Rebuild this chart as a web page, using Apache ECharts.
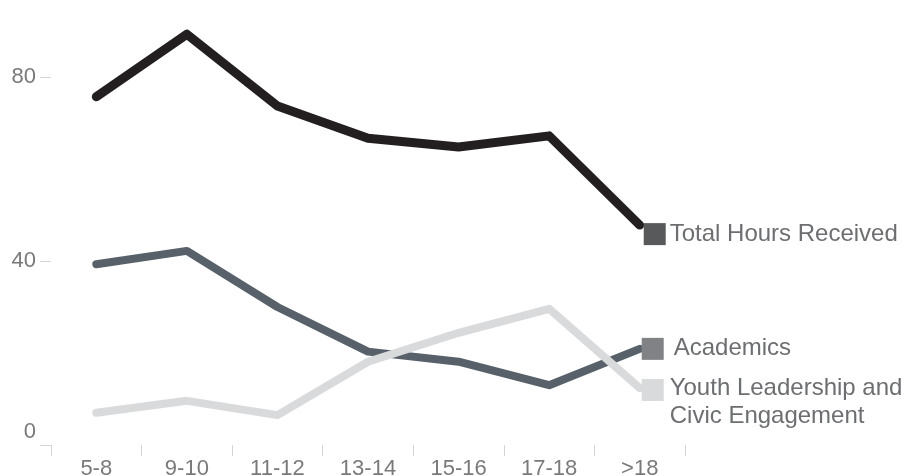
<!DOCTYPE html>
<html>
<head>
<meta charset="utf-8">
<script src="https://cdn.jsdelivr.net/npm/echarts@6/dist/echarts.min.js"></script>
<style>
  html, body { margin: 0; padding: 0; background: #ffffff; }
  #chart { width: 912px; height: 476px; }
</style>
</head>
<body>
<div id="chart"></div>
<script>
// Age groups along the x axis
const ageGroups = ['5-8', '9-10', '11-12', '13-14', '15-16', '17-18', '>18'];

// Average hours per participant, by age group
const totalHours = [75.7, 89.3, 73.7, 66.7, 64.8, 67.2, 47.8];
const academics = [39.3, 42.2, 30.0, 20.3, 18.1, 13.0, 20.9];
const youthLeadership = [7.0, 9.6, 6.5, 18.1, 24.4, 29.6, 12.4];

// Labelled y values
const yTickValues = [0, 40, 80];

const seriesNames = ['Total Hours Received', 'Academics', 'Youth Leadership and\nCivic Engagement'];

const FONT = '"Liberation Sans", Arial, Helvetica, sans-serif';

function endMarker(values, squareColor, symbolOffset, labelOffset, name) {
  const last = values.length - 1;
  return {
    silent: true,
    animation: false,
    data: [{
      coord: [ageGroups[last], values[last]],
      symbol: 'rect',
      symbolSize: 22,
      symbolOffset: symbolOffset,
      itemStyle: { color: squareColor },
      label: {
        show: true,
        position: 'right',
        distance: 4,
        offset: labelOffset,
        formatter: name,
        color: '#6d6e71',
        fontSize: 24,
        lineHeight: 28,
        fontFamily: FONT,
        align: 'left'
      }
    }]
  };
}

function lineSeries(name, values, lineColor, width, marker) {
  return {
    name: name,
    type: 'line',
    data: values,
    symbol: 'none',
    animation: false,
    silent: true,
    clip: false,
    lineStyle: { color: lineColor, width: width, cap: 'round', join: 'round' },
    markPoint: marker
  };
}

const chart = echarts.init(document.getElementById('chart'), null, { renderer: 'canvas' });

chart.setOption({
  backgroundColor: '#ffffff',
  animation: false,
  grid: { left: 51, right: 227, top: 3.4, bottom: 31, containLabel: false, outerBoundsMode: 'none' },
  xAxis: {
    type: 'category',
    data: ageGroups,
    boundaryGap: true,
    axisLine: { show: false },
    axisTick: { show: true, length: 11, lineStyle: { color: '#d4d4d4', width: 1 } },
    axisLabel: { color: '#7a7a7a', fontSize: 22, fontFamily: FONT, margin: 13 },
    splitLine: { show: false }
  },
  yAxis: {
    type: 'value',
    min: 0,
    max: 96,
    axisLine: { show: false },
    axisTick: { show: true, length: 11, customValues: yTickValues, lineStyle: { color: '#d4d4d4', width: 1 } },
    axisLabel: {
      customValues: yTickValues,
      color: '#7a7a7a',
      fontSize: 22,
      fontFamily: FONT,
      margin: 15,
      formatter: function (v) { return v === 0 ? '{zero|0}' : String(v); },
      rich: { zero: { fontSize: 22, fontFamily: FONT, color: '#7a7a7a', padding: [0, 0, 26, 0] } }
    },
    splitLine: { show: false }
  },
  series: [
    lineSeries(seriesNames[0], totalHours, '#231f20', 9,
      endMarker(totalHours, '#58595b', [15, 9], [0, 0], seriesNames[0])),
    lineSeries(seriesNames[1], academics, '#58606a', 8,
      endMarker(academics, '#808285', [13, 0], [6, 0], seriesNames[1])),
    lineSeries(seriesNames[2], youthLeadership, '#d9dadb', 8,
      endMarker(youthLeadership, '#d9dadb', [13, 2], [2, 12], seriesNames[2]))
  ]
});
</script>
</body>
</html>
